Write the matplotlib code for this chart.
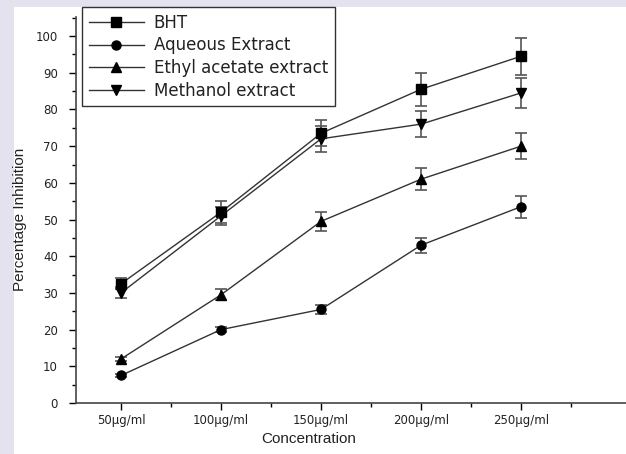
import numpy as np
import matplotlib.pyplot as plt
from matplotlib.patches import Rectangle
from matplotlib.ticker import MultipleLocator

# Concentrations (ug/ml)
conc = [50, 100, 150, 200, 250]
conc_labels = ["50\u00b5g/ml", "100\u00b5g/ml", "150\u00b5g/ml", "200\u00b5g/ml", "250\u00b5g/ml"]

# Percentage inhibition with error bars
bht = [32.5, 52.0, 73.5, 85.5, 94.5]
bht_err = [1.5, 3.0, 3.5, 4.5, 5.0]
aqueous = [7.5, 20.0, 25.5, 43.0, 53.5]
aqueous_err = [0.5, 0.7, 1.3, 2.0, 3.0]
ethyl = [12.0, 29.5, 49.5, 61.0, 70.0]
ethyl_err = [0.5, 1.5, 2.5, 3.0, 3.5]
methanol = [30.0, 51.0, 72.0, 76.0, 84.5]
methanol_err = [1.5, 2.5, 3.5, 3.5, 4.0]

plt.rcParams['font.family'] = ['DejaVu Sans']

fig = plt.figure(figsize=(6.26, 4.54), dpi=100)
fig.patch.set_facecolor('#e4e2ee')
#white panel inside the lavender frame, kept below the axes
fig.patches.append(Rectangle((14 / 626, 0), 1, 1 - 7 / 454, transform=fig.transFigure,
                             facecolor='white', edgecolor='none', zorder=-10))

ax = fig.add_axes([76 / 626, 1 - 403 / 454, 1 - 76 / 626, (403 - 17) / 454])
ax.set_facecolor('white')

series = [("BHT", bht, bht_err, 's'),
          ("Aqueous Extract", aqueous, aqueous_err, 'o'),
          ("Ethyl acetate extract", ethyl, ethyl_err, '^'),
          ("Methanol extract", methanol, methanol_err, 'v')]

for name, vals, errs, mk in series:
    ax.errorbar(conc, vals, yerr=errs, fmt='none', ecolor='#555555', elinewidth=1.2,
                capsize=4, capthick=1.2, zorder=2)
    ax.plot(conc, vals, color='#333333', lw=1, marker=mk, markersize=6.5,
            markerfacecolor='black', markeredgecolor='black', label=name, zorder=3)

ax.set_xlim(27.5, 302.5)
ax.set_ylim(0, 105.2)
ax.set_xticks(conc)
ax.set_xticklabels(conc_labels)
ax.set_xticks([75, 125, 175, 225, 275], minor=True)
ax.yaxis.set_major_locator(MultipleLocator(10))
ax.yaxis.set_minor_locator(MultipleLocator(5))
ax.tick_params(axis='both', which='major', direction='out', length=5, width=1,
               labelsize=8.5, colors='black')
ax.tick_params(axis='both', which='minor', direction='out', length=3, width=1)
ax.tick_params(axis='x', which='major', pad=3)
ax.tick_params(axis='y', which='major', pad=8)
for lab in ax.get_xticklabels() + ax.get_yticklabels():
    lab.set_color('#222222')

for s in ['top', 'right']:
    ax.spines[s].set_visible(False)
for s in ['left', 'bottom']:
    ax.spines[s].set_color('#444444')
    ax.spines[s].set_linewidth(1.2)

ax.set_xlabel("Concentration", fontsize=11, color='#222222', family='Liberation Sans')
ax.set_ylabel("Percentage Inhibition", fontsize=11, color='#222222',
              family='Liberation Sans')
ax.xaxis.set_label_coords((309 - 76) / 550, -29 / 386)
ax.yaxis.set_label_coords(-49 / 550, (403 - 219) / 386)

leg = ax.legend(loc='upper left', bbox_to_anchor=(82 / 626, 1 - 7 / 454),
                bbox_transform=fig.transFigure, fontsize=12, frameon=True,
                fancybox=False, borderpad=0.4, labelspacing=0.28,
                handlelength=3.3, handletextpad=0.6, borderaxespad=0)
leg.get_frame().set_edgecolor('black')
leg.get_frame().set_linewidth(1)
for t in leg.get_texts():
    t.set_color('#222222')

fig.savefig("out.png", dpi=100, facecolor=fig.get_facecolor())
